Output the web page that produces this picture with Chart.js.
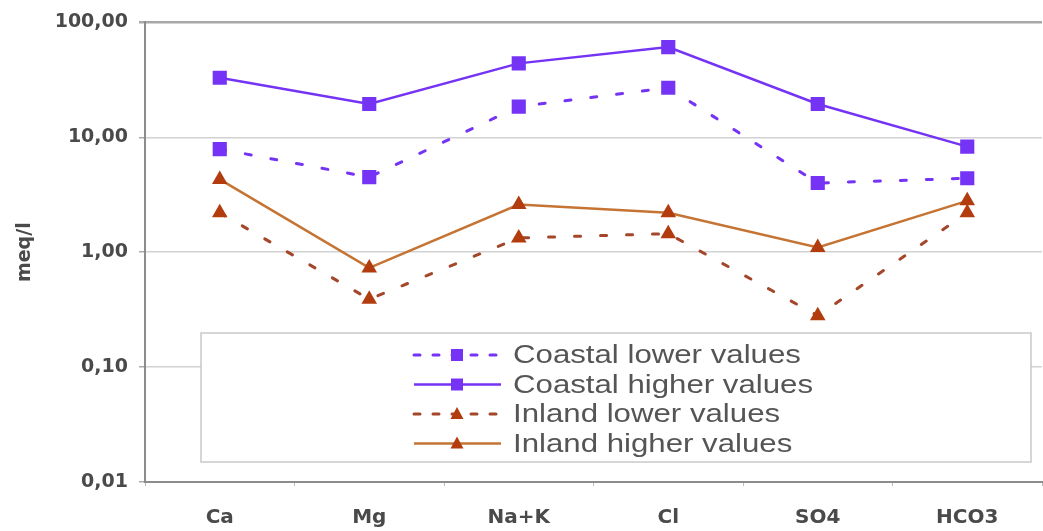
<!DOCTYPE html>
<html>
<head>
<meta charset="utf-8" />
<script src="https://cdn.jsdelivr.net/npm/chart.js@4.4.1/dist/chart.umd.min.js"></script>
<style>
  html, body { margin: 0; padding: 0; background: #fff; overflow: hidden; }
  .chart-wrap { position: relative; width: 1052px; height: 531px; }
</style>
</head>
<body>
<div class="chart-wrap"><canvas id="ionChart"></canvas></div>
<script>
const categories = ["Ca", "Mg", "Na+K", "Cl", "SO4", "HCO3"];
const coastalLower = [7.9, 4.5, 18.5, 27, 4.0, 4.4];
const coastalHigher = [33, 19.5, 44, 61, 19.5, 8.3];
const inlandLower = [2.2, 0.39, 1.33, 1.45, 0.28, 2.2];
const inlandHigher = [4.3, 0.73, 2.6, 2.2, 1.1, 2.8];
const yTicks = [0.01, 0.1, 1, 10, 100];

const PURPLE = "#7433f5";
const BROWN_MARK = "#b23c0e";
const BROWN_DASH = "#a3462a";
const ORANGE_LINE = "#c57434";
const TICK_FONT = { family: "'DejaVu Sans', Verdana, sans-serif", weight: "bold", size: 19 };

// legend sits inside the plot, like the spreadsheet original
const legendBox = {
  id: "legendBox",
  afterDatasetsDraw(chart) {
    const ctx = chart.ctx;
    ctx.save();
    ctx.fillStyle = "#fff";
    ctx.fillRect(201, 333, 830, 129);
    ctx.strokeStyle = "#c9c9c9";
    ctx.lineWidth = 1.5;
    ctx.strokeRect(201, 333, 830, 129);

    chart.data.datasets.forEach((ds, i) => {
      const base = 363 + i * 29.5;
      const ly = base - 8;
      ctx.strokeStyle = ds.borderColor;
      ctx.lineWidth = ds.borderWidth;
      ctx.lineCap = ds.borderDash.length ? "round" : "butt";
      ctx.setLineDash(ds.borderDash.length ? [6, 13] : []);
      ctx.beginPath();
      ctx.moveTo(414, ly);
      ctx.lineTo(501, ly);
      ctx.stroke();
      ctx.setLineDash([]);
      drawMarker(ctx, ds.pointStyle, 457, ly, ds.pointBackgroundColor);

      ctx.fillStyle = "#555";
      ctx.font = '26px "Liberation Sans", Arial, sans-serif';
      ctx.textBaseline = "alphabetic";
      ctx.save();
      ctx.translate(513, base);
      ctx.scale(1.2, 1);
      ctx.fillText(ds.label, 0, 0);
      ctx.restore();
    });
    ctx.restore();
  },
};

function drawMarker(ctx, style, x, y, color) {
  ctx.fillStyle = color;
  ctx.beginPath();
  if (style === "rect") {
    ctx.rect(x - 6, y - 6, 12, 12);
  } else {
    ctx.moveTo(x, y - 7);
    ctx.lineTo(x + 6.5, y + 5);
    ctx.lineTo(x - 6.5, y + 5);
    ctx.closePath();
  }
  ctx.fill();
}

function makeSeries(label, data, lineColor, markColor, style, dashed) {
  return {
    label: label,
    data: data,
    borderColor: lineColor,
    borderWidth: dashed ? 3 : 2.5,
    borderDash: dashed ? [6, 20] : [],
    borderCapStyle: dashed ? "round" : "butt",
    pointStyle: style,
    pointRadius: style === "rect" ? 10 : 9,
    pointBackgroundColor: markColor,
    pointBorderColor: markColor,
    pointBorderWidth: 0,
    tension: 0,
    fill: false,
  };
}

document.addEventListener("DOMContentLoaded", () => {
  const canvas = document.getElementById("ionChart");
  new Chart(canvas, {
    type: "line",
    data: {
      labels: categories,
      datasets: [
        makeSeries("Coastal lower values", coastalLower, PURPLE, PURPLE, "rect", true),
        makeSeries("Coastal higher values", coastalHigher, PURPLE, PURPLE, "rect", false),
        makeSeries("Inland lower values", inlandLower, BROWN_DASH, BROWN_MARK, "triangle", true),
        makeSeries("Inland higher values", inlandHigher, ORANGE_LINE, BROWN_MARK, "triangle", false),
      ],
    },
    options: {
      responsive: true,
      maintainAspectRatio: false,
      animation: false,
      devicePixelRatio: 1,
      layout: { padding: { top: 22, right: 1, left: 0, bottom: 0 } },
      plugins: {
        legend: { display: false },
        tooltip: { enabled: false },
      },
      scales: {
        x: {
          type: "category",
          offset: true,
          afterFit: (scale) => { scale.height = 49; },
          grid: {
            offset: true,
            drawOnChartArea: false,
            drawTicks: true,
            tickLength: 4,
            tickColor: "#bbb",
          },
          border: { color: "#8c8c8c", width: 2 },
          ticks: {
            color: "#4a4a4a",
            padding: 20,
            font: { family: TICK_FONT.family, weight: "bold", size: 20 },
          },
        },
        y: {
          type: "logarithmic",
          min: 0.01,
          max: 100,
          afterFit: (scale) => { scale.width = 145; },
          afterBuildTicks: (scale) => {
            scale.ticks = yTicks.map((v) => ({ value: v }));
          },
          grid: {
            color: (ctx) => (ctx.tick && ctx.tick.value === 100 ? "#a8a8a8" : "#d2d2d2"),
            lineWidth: (ctx) => (ctx.tick && ctx.tick.value === 100 ? 2.5 : 1.5),
            tickLength: 6,
            tickColor: "#aaa",
          },
          border: { color: "#8c8c8c", width: 2 },
          title: {
            display: true,
            text: "meq/l",
            color: "#4a4a4a",
            font: TICK_FONT,
            padding: { top: 14, bottom: 0 },
          },
          ticks: {
            color: "#4a4a4a",
            padding: 11,
            font: TICK_FONT,
            callback: (value) => Number(value).toFixed(2).replace(".", ","),
          },
        },
      },
    },
    plugins: [legendBox],
  });
});
</script>
</body>
</html>
